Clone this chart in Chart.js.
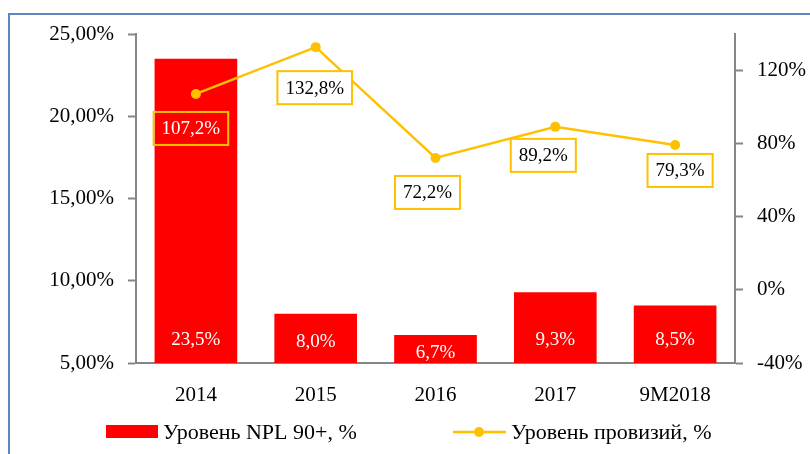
<!DOCTYPE html>
<html>
<head>
<meta charset="utf-8">
<script src="https://cdn.jsdelivr.net/npm/chart.js@4.4.0/dist/chart.umd.min.js"></script>
<style>
  html, body { margin: 0; padding: 0; background: #fff; }
  #wrap { width: 810px; height: 454px; position: relative; }
</style>
</head>
<body>
<div id="wrap"><canvas id="npl" width="810" height="454"></canvas></div>
<script>
// data
var years = ["2014", "2015", "2016", "2017", "9M2018"];
var nplLevel = [23.5, 8.0, 6.7, 9.3, 8.5];           // left axis, %
var provisionLevel = [107.2, 132.8, 72.2, 89.2, 79.3]; // right axis, %
var leftTicks = [5, 10, 15, 20, 25];
var rightTicks = [-40, 0, 40, 80, 120];

var nplName = "Уровень NPL 90+, %";
var provName = "Уровень провизий, %";

// where each line label box sits relative to its point (dx to box centre, dy to box top)
var provLabelPos = [[-5, 18], [-1, 24], [-8, 18], [-12, 12], [5, 9]];
var provLabelText = ["#ffffff", "#000000", "#000000", "#000000", "#000000"];

var RED = "#ff0000";
var GOLD = "#ffc000";
var GREY = "#868686";
var FONT = "'Liberation Serif', 'Times New Roman', serif";

function pct(v, digits) {
    return v.toFixed(digits).replace(".", ",") + "%";
}

var decorPlugin = {
    id: "decor",
    beforeDraw: function(chart) {
        var c = chart.ctx;
        c.save();
        c.fillStyle = "#fff";
        c.fillRect(0, 0, chart.width, chart.height);
        c.strokeStyle = "#5b87c5";
        c.lineWidth = 2;
        c.strokeRect(9, 14, chart.width + 10, chart.height + 10);
        c.restore();
    },
    afterDatasetsDraw: function(chart) {
        var c = chart.ctx;
        var area = chart.chartArea;
        c.save();
        c.font = "19px " + FONT;
        c.textAlign = "center";
        c.textBaseline = "middle";

        // bar labels, white, near the base
        var barMeta = chart.getDatasetMeta(0);
        barMeta.data.forEach(function(bar, i) {
            var p = bar.getProps(["x", "y"], true);
            var base = area.bottom;
            var mid = (p.y + base) / 2;
            var y = Math.max(mid + 4, base - 23);
            c.fillStyle = "#fff";
            c.fillText(pct(nplLevel[i], 1), p.x, y);
        });

        // line labels in gold boxes
        var lineMeta = chart.getDatasetMeta(1);
        lineMeta.data.forEach(function(pt, i) {
            var p = pt.getProps(["x", "y"], true);
            var txt = pct(provisionLevel[i], 1);
            var w = c.measureText(txt).width + 16;
            var h = 33;
            var cx = p.x + provLabelPos[i][0];
            var top = p.y + provLabelPos[i][1];
            if (provLabelText[i] == "#000000") {
                c.fillStyle = "#fff";
                c.fillRect(cx - w / 2, top, w, h);
            }
            c.strokeStyle = GOLD;
            c.lineWidth = 2;
            c.strokeRect(cx - w / 2, top, w, h);
            c.fillStyle = provLabelText[i];
            c.fillText(txt, cx, top + h / 2 + 1);
        });

        // legend
        c.font = "22px " + FONT;
        c.textAlign = "left";
        c.fillStyle = RED;
        c.fillRect(106, 425, 52, 13);
        c.fillStyle = "#000";
        c.fillText(nplName, 163, 433);

        c.strokeStyle = GOLD;
        c.lineWidth = 2.5;
        c.beginPath();
        c.moveTo(453, 432);
        c.lineTo(506, 432);
        c.stroke();
        c.fillStyle = GOLD;
        c.beginPath();
        c.arc(479, 432, 5, 0, Math.PI * 2);
        c.fill();
        c.fillStyle = "#000";
        c.fillText(provName, 511, 433);
        c.restore();
    }
};

var chart = new Chart(document.getElementById("npl"), {
    type: "bar",
    data: {
        labels: years,
        datasets: [{
            label: nplName,
            data: nplLevel,
            backgroundColor: RED,
            categoryPercentage: 1,
            barPercentage: 0.69,
            yAxisID: "y",
            order: 1
        }, {
            type: "line",
            label: provName,
            data: provisionLevel,
            borderColor: GOLD,
            backgroundColor: GOLD,
            borderWidth: 2.5,
            pointRadius: 5,
            pointBackgroundColor: GOLD,
            pointBorderWidth: 0,
            tension: 0,
            yAxisID: "y1",
            order: 0
        }]
    },
    options: {
        responsive: false,
        animation: false,
        layout: { padding: { top: 34, left: 0, right: 0, bottom: 0 } },
        plugins: {
            legend: { display: false },
            tooltip: { enabled: false }
        },
        scales: {
            x: {
                grid: { display: true, drawOnChartArea: false, drawTicks: false },
                border: { display: true, color: GREY, width: 2 },
                ticks: { color: "#000", font: { family: FONT, size: 21 }, padding: 20 },
                afterFit: function(s) { s.height = 91; }
            },
            y: {
                position: "left",
                min: 5,
                max: 25,
                afterBuildTicks: function(s) {
                    s.ticks = leftTicks.map(function(v) { return { value: v }; });
                },
                grid: { drawOnChartArea: false, color: GREY, tickLength: 8, tickWidth: 2 },
                border: { display: true, color: GREY, width: 2 },
                ticks: {
                    color: "#000",
                    font: { family: FONT, size: 21 },
                    padding: 14,
                    callback: function(v) { return pct(v, 2); }
                },
                afterFit: function(s) { s.width = 136; }
            },
            y1: {
                position: "right",
                min: -40,
                max: 140,
                afterBuildTicks: function(s) {
                    s.ticks = rightTicks.map(function(v) { return { value: v }; });
                },
                grid: { drawOnChartArea: false, color: GREY, tickLength: 8, tickWidth: 2 },
                border: { display: true, color: GREY, width: 2 },
                ticks: {
                    color: "#000",
                    font: { family: FONT, size: 21 },
                    padding: 14,
                    callback: function(v) { return v + "%"; }
                },
                afterFit: function(s) { s.width = 75; }
            }
        }
    },
    plugins: [decorPlugin]
});
</script>
</body>
</html>
